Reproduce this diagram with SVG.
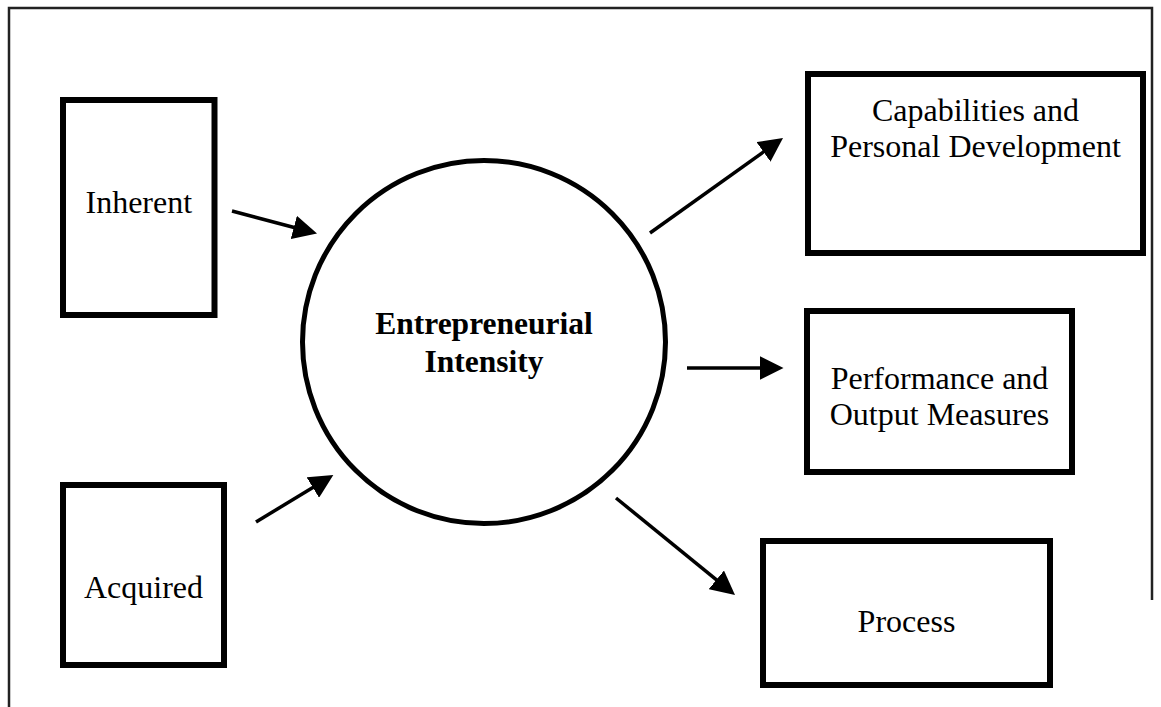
<svg xmlns="http://www.w3.org/2000/svg" width="1161" height="707" viewBox="0 0 1161 707">
<style>
.box{fill:#fff;stroke:#000;stroke-width:6}
.ring{fill:#fff;stroke:#000;stroke-width:5}
.lbl{font-family:"Liberation Serif","Times New Roman",serif;font-size:32px;fill:#000;text-anchor:middle}
.bold{font-weight:bold;font-size:31.5px}
.conn{stroke:#000;stroke-width:3.5;fill:none;marker-end:url(#ah)}
.frame{fill:none;stroke:#222;stroke-width:2.5}
</style>
<defs>
<marker id="ah" markerUnits="userSpaceOnUse" markerWidth="24" markerHeight="24" refX="16" refY="12" orient="auto">
<path d="M0,0 L24,12 L0,24 z" fill="#000"/>
</marker>
</defs>
<rect width="1161" height="707" fill="#fff"/>
<path class="frame" d="M9,707 V8 H1152 V600"/>
<g id="inherent">
<rect class="box" x="63" y="100" width="151.5" height="215"/>
<text class="lbl" x="138.8" y="213">Inherent</text>
</g>
<g id="acquired">
<rect class="box" x="63" y="485" width="161" height="180"/>
<text class="lbl" x="143.5" y="598">Acquired</text>
</g>
<g id="intensity">
<circle class="ring" cx="484" cy="342" r="181.5"/>
<text class="lbl bold" x="484" y="334">Entrepreneurial</text>
<text class="lbl bold" x="484" y="372">Intensity</text>
</g>
<g id="capabilities">
<rect class="box" x="808" y="74" width="335" height="179"/>
<text class="lbl" x="975.5" y="121">Capabilities and</text>
<text class="lbl" x="975.5" y="157">Personal Development</text>
</g>
<g id="performance">
<rect class="box" x="807" y="311" width="265" height="161"/>
<text class="lbl" x="939.5" y="389">Performance and</text>
<text class="lbl" x="939.5" y="425">Output Measures</text>
</g>
<g id="process">
<rect class="box" x="763" y="541" width="287" height="144"/>
<text class="lbl" x="906.5" y="632">Process</text>
</g>
<g id="connectors">
<line class="conn" x1="232" y1="211" x2="309.3" y2="231.5"/>
<line class="conn" x1="256" y1="522" x2="326.5" y2="479.2"/>
<line class="conn" x1="650" y1="233" x2="776.5" y2="142.6"/>
<line class="conn" x1="687" y1="368" x2="775.5" y2="368"/>
<line class="conn" x1="616" y1="498" x2="728.8" y2="589.9"/>
</g>
</svg>
